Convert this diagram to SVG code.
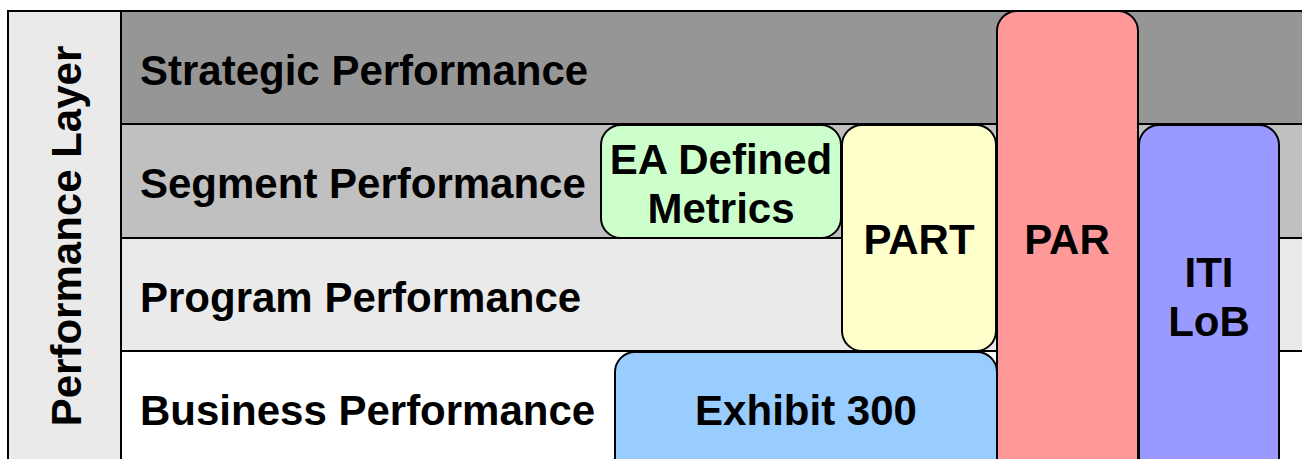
<svg xmlns="http://www.w3.org/2000/svg" width="1302" height="459" viewBox="0 0 1302 459">
<style>
.t{font-family:"Liberation Sans",Arial,sans-serif;font-weight:bold;font-size:42px;fill:#000}
.c{text-anchor:middle}
.row{stroke:#000;stroke-width:2}
.n{stroke:#000;stroke-width:2}
</style>
<rect width="1302" height="459" fill="#ffffff"/>
<g id="rows">
<rect class="row" x="121" y="11" width="1200" height="113" fill="#969696"/>
<rect class="row" x="121" y="124" width="1200" height="114" fill="#c0c0c0"/>
<rect class="row" x="121" y="238" width="1200" height="113" fill="#eaeaea"/>
<rect class="row" x="121" y="351" width="1200" height="130" fill="#ffffff"/>
<rect class="row" x="8" y="11" width="113" height="470" fill="#eaeaea"/>
</g>
<g id="labels">
<text class="t" transform="translate(81,236) rotate(-90)" text-anchor="middle">Performance Layer</text>
<text class="t" x="140" y="85">Strategic Performance</text>
<text class="t" x="140" y="198">Segment Performance</text>
<text class="t" x="140" y="312">Program Performance</text>
<text class="t" x="140" y="425">Business Performance</text>
</g>
<g id="connectors"></g>
<g id="ea-defined-metrics">
<rect class="n" x="601" y="125" width="240" height="113" rx="20" fill="#ccffcc"/>
<text class="t c" x="721" y="174">EA Defined</text>
<text class="t c" x="721" y="223">Metrics</text>
</g>
<g id="part">
<rect class="n" x="842" y="125" width="154" height="226" rx="20" fill="#ffffcc"/>
<text class="t c" x="919" y="254">PART</text>
</g>
<g id="exhibit-300">
<rect class="n" x="615" y="352" width="382" height="130" rx="20" fill="#99ccff"/>
<text class="t c" x="806" y="425">Exhibit 300</text>
</g>
<g id="par">
<rect class="n" x="997" y="11" width="141" height="470" rx="20" fill="#ff9999"/>
<text class="t c" x="1067" y="254">PAR</text>
</g>
<g id="iti-lob">
<rect class="n" x="1139" y="125" width="140" height="356" rx="20" fill="#9999ff"/>
<text class="t c" x="1209" y="287">ITI</text>
<text class="t c" x="1209" y="336">LoB</text>
</g>
</svg>
